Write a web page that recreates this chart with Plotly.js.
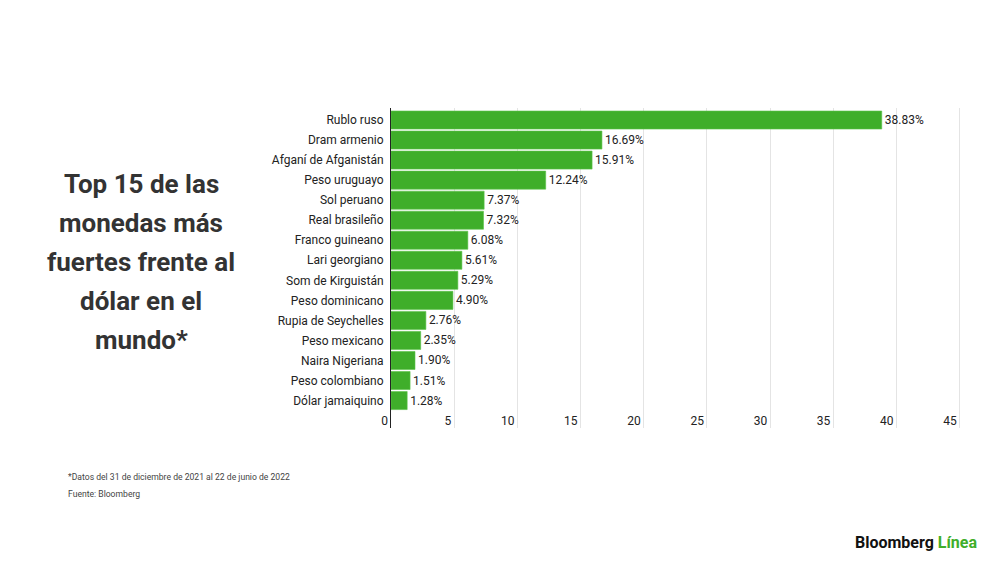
<!DOCTYPE html>
<html>
<head>
<meta charset="utf-8">
<script src="https://cdn.plot.ly/plotly-3.0.1.min.js"></script>
<style>
html,body{margin:0;padding:0;background:#fff;}
#chart{width:1000px;height:562px;}
</style>
</head>
<body>
<div id="chart"></div>
<script>
// Data (top to bottom)
const currencies = [
  "Rublo ruso", "Dram armenio", "Afganí de Afganistán", "Peso uruguayo",
  "Sol peruano", "Real brasileño", "Franco guineano", "Lari georgiano",
  "Som de Kirguistán", "Peso dominicano", "Rupia de Seychelles",
  "Peso mexicano", "Naira Nigeriana", "Peso colombiano", "Dólar jamaiquino"
];
const gains = [38.83, 16.69, 15.91, 12.24, 7.37, 7.32, 6.08, 5.61, 5.29, 4.90, 2.76, 2.35, 1.90, 1.51, 1.28];
const xTicks = [0, 5, 10, 15, 20, 25, 30, 35, 40, 45];

const titleLines = ["Top 15 de las", "monedas más", "fuertes frente al", "dólar en el", "mundo*"];
const footnote = "*Datos del 31 de diciembre de 2021 al 22 de junio de 2022";
const source = "Fuente: Bloomberg";

// Layout geometry (pixels)
const W = 1000, H = 562;
const M = {l: 391, r: 39, t: 108, b: 134};
const plotW = W - M.l - M.r, plotH = H - M.t - M.b;
function px(x) { return (x - M.l) / plotW; }
function py(y) { return (H - M.b - y) / plotH; }

const trace = {
  type: 'bar',
  orientation: 'h',
  x: gains,
  y: currencies,
  marker: {color: '#3FAE2A', line: {color: '#5cc24a', width: 0.6}},
  text: gains.map(v => v.toFixed(2) + '%'),
  textposition: 'outside',
  textfont: {family: 'Roboto', size: 12, color: '#222'},
  cliponaxis: false,
  hoverinfo: 'skip'
};

const annotations = [];
const titleY = [184, 223, 262, 301, 340];
titleLines.forEach((t, i) => {
  annotations.push({
    xref: 'paper', yref: 'paper', x: px(141), y: py(titleY[i]),
    xanchor: 'center', yanchor: 'middle', showarrow: false,
    text: '<b>' + t + '</b>',
    font: {family: 'Roboto', size: 26, color: '#333'}
  });
});
annotations.push({
  xref: 'paper', yref: 'paper', x: px(66), y: py(477),
  xanchor: 'left', yanchor: 'middle', showarrow: false,
  text: footnote, font: {family: 'Roboto', size: 8.6, color: '#444'}
});
annotations.push({
  xref: 'paper', yref: 'paper', x: px(66), y: py(494),
  xanchor: 'left', yanchor: 'middle', showarrow: false,
  text: source, font: {family: 'Roboto', size: 8.6, color: '#444'}
});
annotations.push({
  xref: 'paper', yref: 'paper', x: px(979), y: py(542),
  xanchor: 'right', yanchor: 'middle', showarrow: false,
  text: '<b>Bloomberg</b> <b><span style="color:#3FAE2A">Línea</span></b>',
  font: {family: 'Roboto', size: 16, color: '#111'}
});

const layout = {
  width: W, height: H,
  margin: M,
  paper_bgcolor: '#fff', plot_bgcolor: '#fff',
  showlegend: false,
  bargap: 0.1,
  xaxis: {
    range: [0, 45.1],
    tickvals: xTicks,
    ticktext: xTicks.map(String),
    showgrid: true, gridcolor: '#e4e4e4', gridwidth: 1,
    zeroline: false, showline: false, ticks: '',
    anchor: 'free', position: py(412),
    ticklabelposition: 'outside left',
    ticklabelshift: -3,
    tickfont: {family: 'Roboto', size: 12, color: '#222'},
    fixedrange: true
  },
  yaxis: {
    type: 'category',
    categoryorder: 'array', categoryarray: currencies,
    range: [15.37, -0.6],
    showgrid: false, zeroline: false,
    showline: true, linecolor: '#222', linewidth: 1,
    ticks: '', ticklabelstandoff: 4,
    tickfont: {family: 'Roboto', size: 12, color: '#222'},
    fixedrange: true
  },
  annotations: annotations
};

Plotly.newPlot('chart', [trace], layout, {displayModeBar: false, staticPlot: true});
</script>
</body>
</html>
